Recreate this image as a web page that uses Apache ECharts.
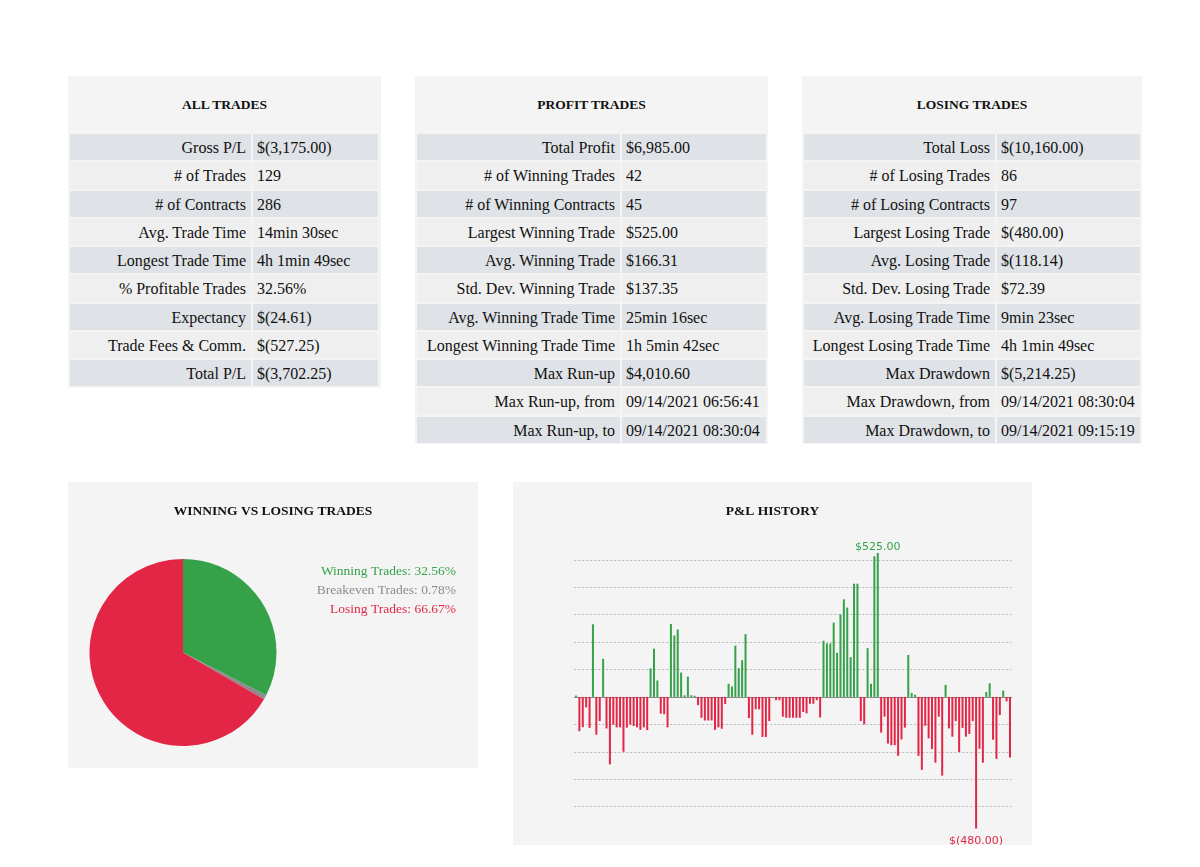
<!DOCTYPE html>
<html lang="en">

<head>
  <meta charset="UTF-8" />
  <title>Trade Statistics</title>
  <script src="https://cdn.jsdelivr.net/npm/echarts@6/dist/echarts.min.js"></script>
  <style>
    body {
      margin: 0;
      background: #fff;
      font-family: "Liberation Serif", "Times New Roman", serif;
      color: #111;
    }

    .panel {
      position: absolute;
      background: #f4f4f4;
    }

    .panel h3 {
      margin: 0;
      height: 56px;
      line-height: 58px;
      text-align: center;
      font-size: 13.5px;
      font-weight: bold;
    }

    .panel table {
      border-collapse: separate;
      border-spacing: 2px;
      table-layout: fixed;
    }

    .panel td {
      height: 26.25px;
      padding: 0;
      font-size: 16px;
      white-space: nowrap;
    }

    .panel td span {
      position: relative;
      top: 1px;
    }

    .panel td.lbl {
      text-align: right;
      padding-right: 5px;
    }

    .panel td.val {
      padding-left: 4px;
    }

    .panel tr:nth-child(odd) td {
      background: #dfe2e6;
    }

    .panel tr:nth-child(even) td {
      background: #efefef;
    }

    .chart {
      position: absolute;
      background: #f4f4f4;
    }
  </style>
</head>

<body>
  <div class="panel" id="all" style="left:68px;top:76px;width:313px;height:312px;"></div>
  <div class="panel" id="profit" style="left:415px;top:76px;width:353px;height:368px;"></div>
  <div class="panel" id="losing" style="left:802px;top:76px;width:340px;height:368px;"></div>

  <div class="chart" id="pie" style="left:68px;top:482px;width:410px;height:286px;"></div>
  <div class="chart" id="pnl" style="left:513px;top:482px;width:519px;height:363px;"></div>

  <script>
    // statistics tables
    const allLabels = ['Gross P/L', '# of Trades', '# of Contracts', 'Avg. Trade Time', 'Longest Trade Time',
      '% Profitable Trades', 'Expectancy', 'Trade Fees & Comm.', 'Total P/L'];
    const allValues = ['$(3,175.00)', '129', '286', '14min 30sec', '4h 1min 49sec',
      '32.56%', '$(24.61)', '$(527.25)', '$(3,702.25)'];

    const profitLabels = ['Total Profit', '# of Winning Trades', '# of Winning Contracts', 'Largest Winning Trade',
      'Avg. Winning Trade', 'Std. Dev. Winning Trade', 'Avg. Winning Trade Time', 'Longest Winning Trade Time',
      'Max Run-up', 'Max Run-up, from', 'Max Run-up, to'];
    const profitValues = ['$6,985.00', '42', '45', '$525.00', '$166.31', '$137.35', '25min 16sec', '1h 5min 42sec',
      '$4,010.60', '09/14/2021 06:56:41', '09/14/2021 08:30:04'];

    const losingLabels = ['Total Loss', '# of Losing Trades', '# of Losing Contracts', 'Largest Losing Trade',
      'Avg. Losing Trade', 'Std. Dev. Losing Trade', 'Avg. Losing Trade Time', 'Longest Losing Trade Time',
      'Max Drawdown', 'Max Drawdown, from', 'Max Drawdown, to'];
    const losingValues = ['$(10,160.00)', '86', '97', '$(480.00)', '$(118.14)', '$72.39', '9min 23sec', '4h 1min 49sec',
      '$(5,214.25)', '09/14/2021 08:30:04', '09/14/2021 09:15:19'];

    // pie
    const pieNames = ['Winning Trades', 'Breakeven Trades', 'Losing Trades'];
    const pieCounts = [42, 1, 86];
    const piePercents = ['32.56%', '0.78%', '66.67%'];
    const pieColors = ['#35a24a', '#8c8c8c', '#e32646'];

    // P&L per trade, in order
    const pnlValues = [
      5, -125, -110, -38, -113, 265, -138, -88, 139, -115,
      -246, -101, -111, -111, -200, -112, -101, -106, -111, -120,
      -111, -121, 104, 176, 60, -61, -63, -111, 266, 224,
      246, 89, 6, 74, 6, 4, -30, -76, -86, -86,
      -86, -120, -111, -116, -26, 48, 38, 187, 105, 134,
      229, -77, -138, -45, -45, -146, -146, -88, 0, -12,
      -12, -72, -76, -76, -76, -76, -76, -55, -60, -25,
      -25, -12, -75, 205, 195, 195, 271, 161, 301, 356,
      326, 145, 413, 413, -88, -100, 178, 48, 513, 525,
      -130, -72, -170, -176, -176, -215, -155, -112, 153, 14,
      8, -215, -266, -105, -151, -190, -240, -72, -287, 44,
      -115, -145, -88, -201, -113, -145, -135, -88, -480, -189,
      -240, 18, 50, -156, -226, -66, 23, -16, -221
    ];
    const tradeNumbers = pnlValues.map((v, i) => String(i + 1));

    const GREEN = '#35a24a';
    const RED = '#e32646';

    function buildTable(id, title, labels, values, labelW, valueW) {
      let html = '<h3>' + title + '</h3><table><colgroup><col style="width:' + labelW + 'px"><col style="width:' + valueW + 'px"></colgroup>';
      labels.forEach((l, i) => {
        html += '<tr><td class="lbl"><span>' + l.replace('&', '&amp;') + '</span></td><td class="val"><span>' + values[i] + '</span></td></tr>';
      });
      html += '</table>';
      document.getElementById(id).innerHTML = html;
    }
    buildTable('all', 'ALL TRADES', allLabels, allValues, 181, 125);
    buildTable('profit', 'PROFIT TRADES', profitLabels, profitValues, 203, 144);
    buildTable('losing', 'LOSING TRADES', losingLabels, losingValues, 191, 143);

    const serif = '"Liberation Serif", "Times New Roman", serif';

    // 饼图
    const pieChart = echarts.init(document.getElementById('pie'));
    pieChart.setOption({
      animation: false,
      title: {
        text: 'WINNING VS LOSING TRADES',
        left: 'center',
        top: 23,
        padding: 0,
        textStyle: { fontFamily: serif, fontSize: 13.5, fontWeight: 'bold', color: '#111' }
      },
      color: pieColors,
      series: [{
        type: 'pie',
        center: [115, 170.5],
        radius: 93.5,
        startAngle: 90,
        clockwise: true,
        silent: true,
        label: { show: false },
        labelLine: { show: false },
        data: pieNames.map((n, i) => ({ name: n, value: pieCounts[i] }))
      }],
      graphic: pieNames.map((n, i) => ({
        type: 'text',
        right: 22,
        top: 82 + i * 19,
        style: {
          text: n + ': ' + piePercents[i],
          fill: pieColors[i],
          font: '13.5px ' + serif,
          textAlign: 'right'
        }
      }))
    });

    // P&L 柱状图
    let maxIdx = 0, minIdx = 0;
    pnlValues.forEach((v, i) => {
      if (v > pnlValues[maxIdx]) maxIdx = i;
      if (v < pnlValues[minIdx]) minIdx = i;
    });
    const money = v => v < 0 ? '$(' + Math.abs(v).toFixed(2) + ')' : '$' + v.toFixed(2);
    const barData = pnlValues.map((v, i) => {
      const item = { value: v };
      if (i === maxIdx || i === minIdx) {
        item.label = {
          show: true,
          position: v >= 0 ? 'top' : 'bottom',
          distance: v >= 0 ? 0 : 7,
          formatter: money(v),
          color: v >= 0 ? GREEN : RED,
          fontFamily: 'DejaVu Sans',
          fontSize: 11
        };
      }
      return item;
    });

    const pnlChart = echarts.init(document.getElementById('pnl'));
    pnlChart.setOption({
      animation: false,
      title: {
        text: 'P&L HISTORY',
        left: 'center',
        top: 23,
        padding: 0,
        textStyle: { fontFamily: serif, fontSize: 13.5, fontWeight: 'bold', color: '#111' }
      },
      grid: { left: 61.3, top: 71, width: 437.4, height: 281 },
      xAxis: {
        type: 'category',
        data: tradeNumbers,
        axisLine: { onZero: true, lineStyle: { color: '#8a8a8a', width: 1 } },
        axisTick: { show: false },
        axisLabel: { show: false },
        splitLine: { show: false }
      },
      yAxis: {
        type: 'value',
        min: -500,
        max: 525,
        interval: 100,
        axisLine: { show: false },
        axisTick: { show: false },
        axisLabel: { show: false },
        splitLine: {
          show: true,
          showMinLine: false,
          showMaxLine: false,
          lineStyle: { type: [2, 2], color: '#b8b8b8', width: 1 }
        }
      },
      series: [{
        type: 'bar',
        barWidth: 2,
        silent: true,
        data: barData,
        itemStyle: {
          color: p => p.value >= 0 ? GREEN : RED
        }
      }]
    });

    window.addEventListener('resize', function () {
      pieChart.resize();
      pnlChart.resize();
    });
  </script>
</body>

</html>
